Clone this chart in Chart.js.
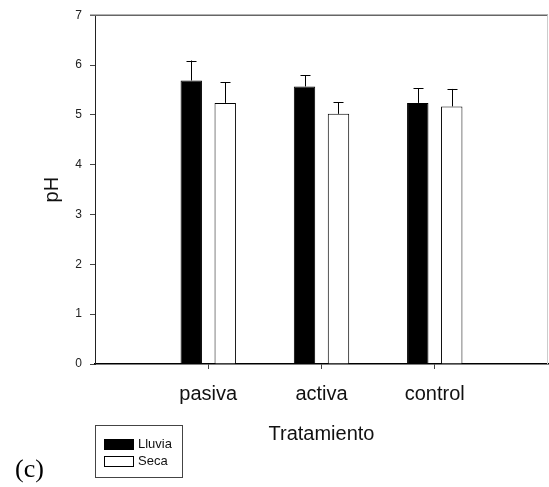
<!DOCTYPE html>
<html>
<head>
<meta charset="utf-8">
<script src="https://cdn.jsdelivr.net/npm/chart.js@4.4.1/dist/chart.umd.min.js"></script>
<style>
  html, body { margin: 0; padding: 0; background: #fff; }
  #wrap { position: relative; width: 549px; height: 487px; }
  #legend {
    position: absolute; left: 95px; top: 425px; width: 86px; height: 51px;
    border: 1px solid #444; font: 13px "Liberation Sans", Arial, sans-serif; color: #111;
  }
  #legend .item { position: absolute; left: 8px; height: 12px; line-height: 12px; }
  #legend .swatch {
    display: inline-block; width: 28px; height: 9px; border: 1px solid #000;
    vertical-align: top; margin-right: 4px; margin-top: 1px;
  }
  #panel {
    position: absolute; left: 15px; top: 454px;
    font: 26px "Liberation Serif", "Times New Roman", serif; color: #000;
  }
</style>
</head>
<body>
<div id="wrap">
  <canvas id="chart" width="549" height="487"></canvas>
  <div id="legend"></div>
  <div id="panel">(c)</div>
</div>
<script>
const categories = ['pasiva', 'activa', 'control'];
const lluvia = [5.69, 5.57, 5.24];
const lluviaErr = [0.40, 0.22, 0.29];
const seca = [5.24, 5.02, 5.17];
const secaErr = [0.41, 0.23, 0.35];
const yTicks = [0, 1, 2, 3, 4, 5, 6, 7];

// empty slots at both ends so the categories sit at 1, 2, 3 on a 0..4 axis
const labels = [''].concat(categories, ['']);
const pad = arr => [null].concat(arr, [null]);

const errorBars = {
  id: 'errorBars',
  afterDatasetsDraw(chart) {
    const ctx = chart.ctx;
    const y = chart.scales.y;
    ctx.save();
    ctx.strokeStyle = '#000';
    ctx.lineWidth = 1;
    chart.data.datasets.forEach((ds, i) => {
      const meta = chart.getDatasetMeta(i);
      meta.data.forEach((bar, j) => {
        const v = ds.data[j];
        if (v == null) return;
        const top = y.getPixelForValue(v + ds.errors[j]);
        const x = Math.round(bar.x) + 0.5;
        ctx.beginPath();
        ctx.moveTo(x, bar.y);
        ctx.lineTo(x, top);
        ctx.moveTo(x - 5, Math.round(top) + 0.5);
        ctx.lineTo(x + 5, Math.round(top) + 0.5);
        ctx.stroke();
      });
    });
    ctx.restore();
  }
};

const frame = {
  id: 'frame',
  afterDraw(chart) {
    const { ctx, chartArea: a } = chart;
    ctx.save();
    ctx.lineWidth = 1.5;
    ctx.strokeStyle = '#666';
    ctx.beginPath();
    ctx.moveTo(a.left - 5, a.top);
    ctx.lineTo(a.right, a.top);
    ctx.stroke();
    ctx.lineWidth = 1;
    ctx.strokeStyle = '#ccc';
    ctx.beginPath();
    ctx.moveTo(a.right - 0.5, a.top);
    ctx.lineTo(a.right - 0.5, a.bottom);
    ctx.stroke();
    ctx.restore();
  }
};

const chart = new Chart(document.getElementById('chart'), {
  type: 'bar',
  data: {
    labels: labels,
    datasets: [
      { label: 'Lluvia', data: pad(lluvia), errors: pad(lluviaErr), backgroundColor: '#000', borderColor: '#000', borderWidth: 1 },
      { label: 'Seca', data: pad(seca), errors: pad(secaErr), backgroundColor: '#fff', borderColor: '#000', borderWidth: 1 }
    ]
  },
  options: {
    responsive: false,
    animation: false,
    categoryPercentage: 0.6,
    barPercentage: 0.63,
    layout: { padding: { left: 0, right: 1, top: 14, bottom: 0 } },
    plugins: { legend: { display: false }, tooltip: { enabled: false } },
    scales: {
      x: {
        offset: false,
        afterFit: s => { s.height = 123; },
        border: { color: '#000', width: 1.5 },
        grid: {
          offset: false, drawOnChartArea: false, tickLength: 5,
          tickColor: c => (c.index === 0 || c.index === labels.length - 1) ? 'rgba(0,0,0,0)' : '#444'
        },
        // small padding keeps the right edge in place; lineHeight pushes the labels down
        ticks: { padding: 1, color: '#111', font: { family: 'Liberation Sans, Arial', size: 20, lineHeight: 2.4 } },
        title: {
          display: true, text: 'Tratamiento', color: '#111',
          font: { family: 'Liberation Sans, Arial', size: 20 },
          padding: { top: 0, bottom: 41 }
        }
      },
      y: {
        min: 0, max: 7,
        afterFit: s => { s.width = 95; },
        afterBuildTicks: s => { s.ticks = yTicks.map(v => ({ value: v })); },
        border: { color: '#222', width: 1 },
        grid: { drawOnChartArea: false, tickLength: 5, tickColor: '#444' },
        ticks: { padding: 8, color: '#222', font: { family: 'Liberation Sans, Arial', size: 12 } },
        title: {
          display: true, text: 'pH', color: '#111',
          font: { family: 'Liberation Sans, Arial', size: 20 },
          padding: { top: 40, bottom: 0 }
        }
      }
    }
  },
  plugins: [errorBars, frame]
});

// legend built from the datasets
const legend = document.getElementById('legend');
chart.data.datasets.forEach((ds, i) => {
  const item = document.createElement('div');
  item.className = 'item';
  item.style.top = (12 + i * 17) + 'px';
  item.innerHTML = '<span class="swatch" style="background:' + ds.backgroundColor + '"></span>' + ds.label;
  legend.appendChild(item);
});
</script>
</body>
</html>
